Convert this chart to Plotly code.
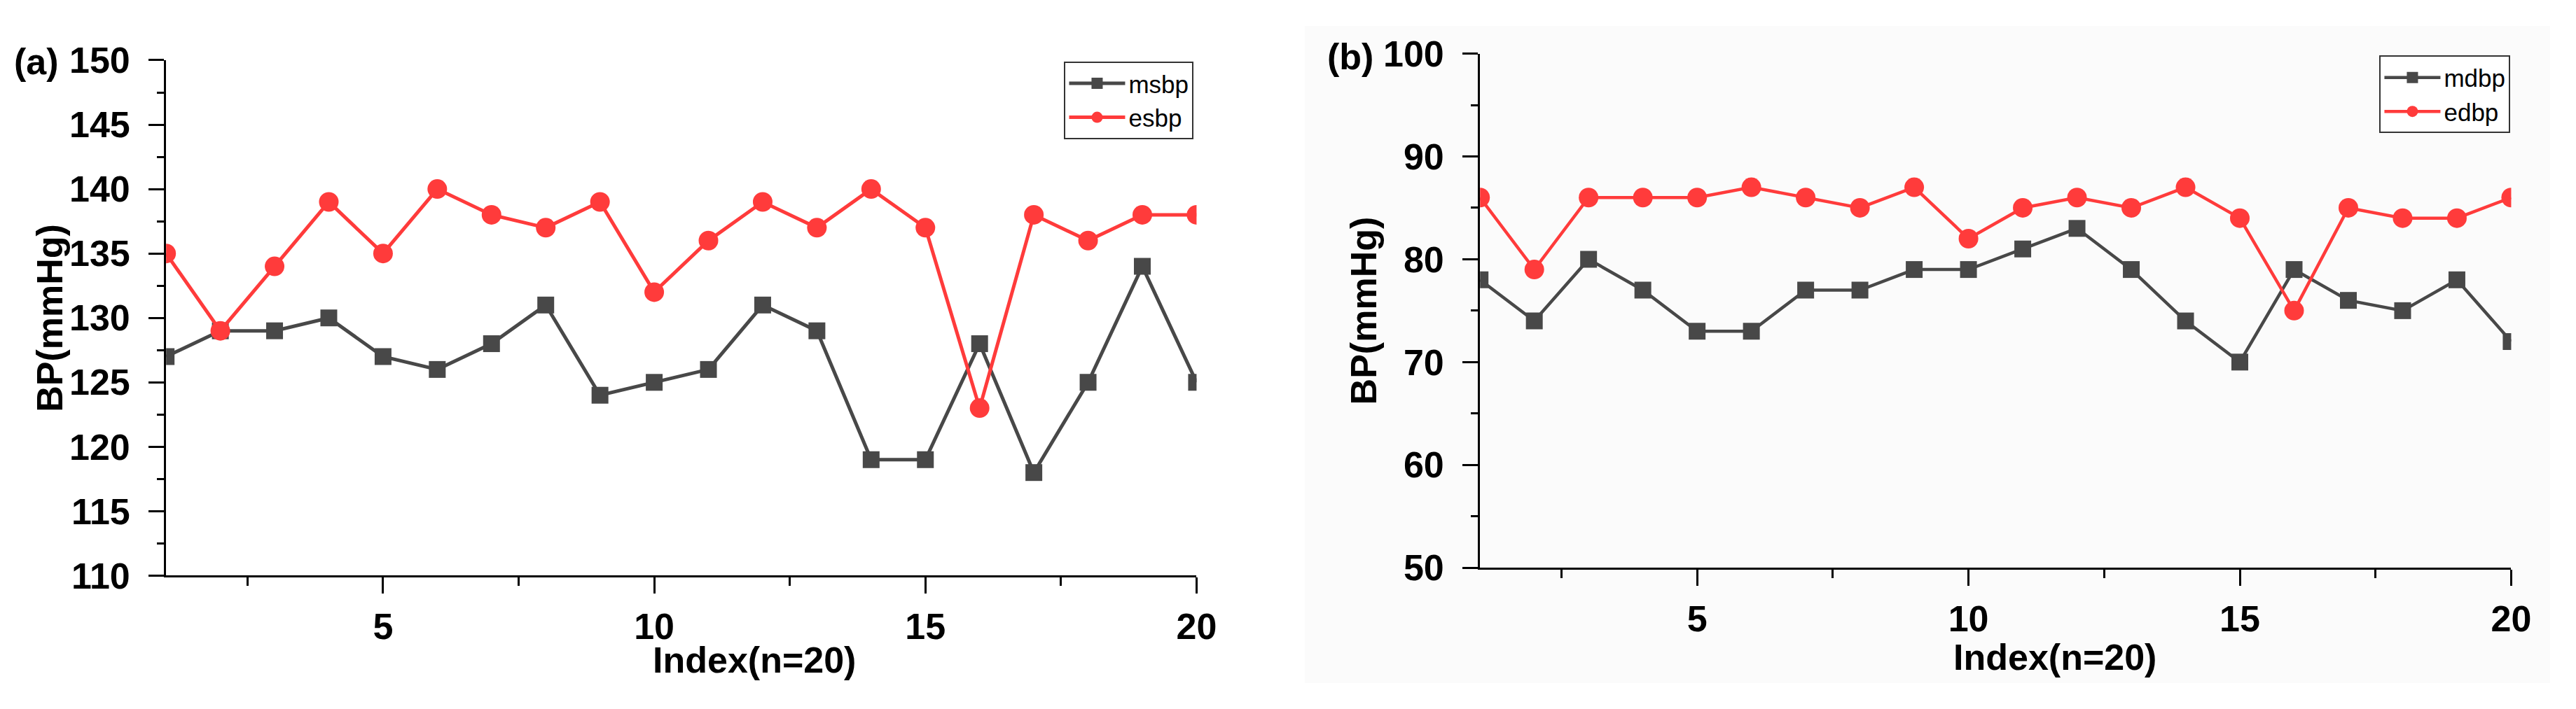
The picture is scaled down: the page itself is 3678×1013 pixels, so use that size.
import plotly.graph_objects as go

# datos
idx = list(range(1, 21))

msbp = [127, 129, 129, 130, 127, 126, 128, 131, 124, 125, 126, 131, 129, 119, 119, 128, 118, 125, 134, 125]
esbp = [135, 129, 134, 139, 135, 140, 138, 137, 139, 132, 136, 139, 137, 140, 137, 123, 138, 136, 138, 138]

mdbp = [78, 74, 80, 77, 73, 73, 77, 77, 79, 79, 81, 83, 79, 74, 70, 79, 76, 75, 78, 72]
edbp = [86, 79, 86, 86, 86, 87, 86, 85, 87, 82, 85, 86, 85, 87, 84, 75, 85, 84, 84, 86]

x_ticks = [5, 10, 15, 20]
x_minor = [2.5, 7.5, 12.5, 17.5]

W, H = 3678, 1013
PAD = 8  # margen por defecto del <body> en la pagina
GRAY = "#484848"
RED = "#ff3b3b"
FONT = "Liberation Sans, Arial, sans-serif"


# posiciones de pagina (px) -> coordenadas de papel
def px(x):
    return (x - PAD) / (W - 2 * PAD)


def py(y):
    return 1 - (y - PAD) / (H - 2 * PAD)


fig = go.Figure()

# panel (a)
fig.add_trace(go.Scatter(x=idx, y=msbp, name="msbp", mode="lines+markers",
                         line=dict(color=GRAY, width=5),
                         marker=dict(symbol="square", size=24, color=GRAY),
                         xaxis="x", yaxis="y", legend="legend"))
fig.add_trace(go.Scatter(x=idx, y=esbp, name="esbp", mode="lines+markers",
                         line=dict(color=RED, width=5),
                         marker=dict(symbol="circle", size=28, color=RED),
                         xaxis="x", yaxis="y", legend="legend"))

# panel (b)
fig.add_trace(go.Scatter(x=idx, y=mdbp, name="mdbp", mode="lines+markers",
                         line=dict(color=GRAY, width=4.5),
                         marker=dict(symbol="square", size=24, color=GRAY),
                         xaxis="x2", yaxis="y2", legend="legend2"))
fig.add_trace(go.Scatter(x=idx, y=edbp, name="edbp", mode="lines+markers",
                         line=dict(color=RED, width=4.5),
                         marker=dict(symbol="circle", size=28, color=RED),
                         xaxis="x2", yaxis="y2", legend="legend2"))

tickfont = dict(family=FONT, size=52, color="black", weight="bold")

common_x = dict(range=[1, 20], tickmode="array", tickvals=x_ticks,
                ticks="outside", ticklen=23, tickwidth=3, tickcolor="black",
                showline=True, linewidth=3, linecolor="black",
                showgrid=False, zeroline=False, tickfont=tickfont,
                ticklabelstandoff=2,
                minor=dict(tickmode="array", tickvals=x_minor, ticks="outside",
                           ticklen=12, tickwidth=3, tickcolor="black", showgrid=False))

common_y = dict(ticks="outside", ticklen=22, tickwidth=3, tickcolor="black",
                showline=True, linewidth=3, linecolor="black",
                showgrid=False, zeroline=False, tickfont=tickfont,
                ticklabelstandoff=16)

legend_style = dict(xanchor="right", yanchor="top",
                    bgcolor="white", bordercolor="#333333", borderwidth=2,
                    font=dict(family=FONT, size=35, color="black"),
                    itemwidth=80, tracegroupgap=0)

fig.update_layout(
    width=W - 2 * PAD, height=H - 2 * PAD,
    margin=dict(l=0, r=0, t=0, b=0),
    paper_bgcolor="white",
    plot_bgcolor="rgba(0,0,0,0)",
    font=dict(family=FONT, color="black"),
    xaxis=dict(domain=[px(239), px(1722)], anchor="y", **common_x),
    yaxis=dict(domain=[py(842), py(60)], anchor="x", range=[110, 150],
               tick0=110, dtick=5,
               minor=dict(dtick=2.5, ticks="outside", ticklen=10, tickwidth=3,
                          tickcolor="black", showgrid=False),
               **common_y),
    xaxis2=dict(domain=[px(2130), px(3614)], anchor="y2", **common_x),
    yaxis2=dict(domain=[py(830), py(50)], anchor="x2", range=[50, 100],
                tick0=50, dtick=10,
                minor=dict(dtick=5, ticks="outside", ticklen=10, tickwidth=3,
                           tickcolor="black", showgrid=False),
                **common_y),
    legend=dict(x=px(1718), y=py(62), **legend_style),
    legend2=dict(x=px(3613), y=py(53), **legend_style),
    showlegend=True,
)

# fondo gris muy claro del panel (b)
fig.add_shape(type="rect", xref="paper", yref="paper",
              x0=px(1878), x1=1, y0=0, y1=1,
              fillcolor="#fbfbfb", line=dict(width=0), layer="below")

label_font = dict(family=FONT, size=52, color="black", weight="bold")

annotations = [
    dict(text="(a)", x=px(18), y=py(62), xanchor="left", yanchor="middle"),
    dict(text="(b)", x=px(1908), y=py(55), xanchor="left", yanchor="middle"),
    dict(text="Index(n=20)", x=px(1086), y=py(970), xanchor="center", yanchor="middle"),
    dict(text="Index(n=20)", x=px(2957), y=py(966), xanchor="center", yanchor="middle"),
    dict(text="BP(mmHg)", x=px(72), y=py(451), xanchor="center", yanchor="middle", textangle=-90),
    dict(text="BP(mmHg)", x=px(1962), y=py(440), xanchor="center", yanchor="middle", textangle=-90),
]
for a in annotations:
    fig.add_annotation(xref="paper", yref="paper", showarrow=False, font=label_font, **a)

fig.write_html("out.html")
